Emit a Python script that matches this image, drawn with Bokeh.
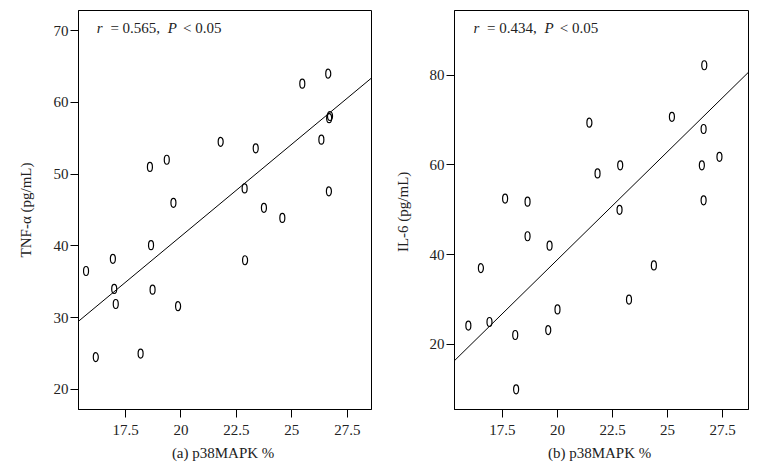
from bokeh.plotting import figure
from bokeh.layouts import row
from bokeh.models import ColumnDataSource, Slope, Label, FixedTicker, Range1d
from bokeh.embed import file_html
from bokeh.resources import INLINE

# ---- data ----
tnf_x = [26.64, 25.47, 26.68, 26.72, 26.33, 21.79, 23.37, 19.36, 18.60, 22.87, 26.67, 19.66,
         23.74, 24.57, 18.65, 16.93, 22.89, 15.72, 16.99, 18.72, 17.06, 19.87, 16.16, 18.18]
tnf_y = [64.0, 62.6, 57.8, 58.1, 54.8, 54.5, 53.6, 52.0, 51.0, 48.0, 47.6, 46.0,
         45.3, 43.9, 40.1, 38.2, 38.0, 36.5, 34.0, 33.9, 31.9, 31.6, 24.5, 25.0]

il6_x = [26.67, 25.20, 21.45, 26.64, 27.36, 22.85, 26.56, 21.82, 17.62, 18.64, 26.64, 22.82,
         18.64, 19.64, 16.52, 24.38, 23.25, 20.00, 15.95, 16.91, 18.08, 19.58, 18.12]
il6_y = [82.2, 70.7, 69.4, 68.0, 61.8, 59.9, 59.9, 58.1, 52.5, 51.8, 52.1, 50.0,
         44.1, 42.0, 37.0, 37.6, 30.0, 27.8, 24.2, 25.0, 22.1, 23.2, 10.0]

# fitted regression lines
tnf_slope, tnf_intercept = 2.566, -9.97
il6_slope, il6_intercept = 4.81, -57.3

x_ticks = [17.5, 20, 22.5, 25, 27.5]
x_tick_labels = {17.5: "17.5", 20: "20", 22.5: "22.5", 25: "25", 27.5: "27.5"}
tnf_ticks = [20, 30, 40, 50, 60, 70]
il6_ticks = [20, 40, 60, 80]

tnf_stats = ("r", "= 0.565,", "P", "< 0.05")
il6_stats = ("r", "= 0.434,", "P", "< 0.05")

SERIF = "Liberation Serif"


def make_panel(xs, ys, slope, intercept, xr, yr, yticks, ylabel, xlabel, stats,
               width, bl, br, stat_dx, ylab_standoff):
    p = figure(width=width, height=468, output_backend="svg", toolbar_location=None,
               x_range=Range1d(*xr), y_range=Range1d(*yr),
               min_border_left=bl, min_border_right=br, min_border_top=10, min_border_bottom=59)
    p.xgrid.visible = False
    p.ygrid.visible = False
    p.outline_line_color = "black"
    p.outline_line_width = 1
    p.outline_line_alpha = 1
    p.background_fill_color = "white"
    p.border_fill_color = "white"

    src = ColumnDataSource(dict(x=xs, y=ys))
    p.ellipse(x="x", y="y", width=5, height=9, width_units="screen", height_units="screen",
              source=src, fill_alpha=0, line_color="black", line_width=1.2)
    p.add_layout(Slope(gradient=slope, y_intercept=intercept, line_color="black", line_width=1))

    for ax in (p.xaxis[0], p.yaxis[0]):
        ax.axis_line_color = "black"
        ax.major_tick_line_color = "black"
        ax.minor_tick_line_color = None
        ax.major_tick_in = 0
        ax.major_tick_out = 8
        ax.major_label_text_font = SERIF
        ax.major_label_text_font_size = "15px"
        ax.major_label_text_color = "#222222"
        ax.axis_label_text_font = SERIF
        ax.axis_label_text_font_size = "15px"
        ax.axis_label_text_font_style = "normal"
        ax.axis_label_text_color = "#222222"

    p.xaxis.ticker = FixedTicker(ticks=x_ticks)
    p.xaxis.major_label_overrides = x_tick_labels
    p.xaxis.major_label_standoff = 7
    p.xaxis.axis_label = xlabel
    p.xaxis.axis_label_standoff = 7

    p.yaxis.ticker = FixedTicker(ticks=yticks)
    p.yaxis.major_label_standoff = 2
    p.yaxis.axis_label = ylabel
    p.yaxis.axis_label_standoff = ylab_standoff

    offsets = [18.3, 31.9, 89.3, 104.5]
    styles = ["italic", "normal", "italic", "normal"]
    for txt, dx, st in zip(stats, offsets, styles):
        p.add_layout(Label(x=dx + stat_dx, y=382, x_units="screen", y_units="screen", text=txt,
                           text_font=SERIF, text_font_size="15px", text_font_style=st,
                           text_color="#222222", text_baseline="alphabetic", text_align="left"))
    return p


p1 = make_panel(tnf_x, tnf_y, tnf_slope, tnf_intercept, (15.38, 28.59), (17.2, 72.8), tnf_ticks,
                "TNF-α (pg/mL)", "(a)  p38MAPK %", tnf_stats, 390, 78, 19, 0, 17)
p2 = make_panel(il6_x, il6_y, il6_slope, il6_intercept, (15.32, 28.68), (5.5, 94.4), il6_ticks,
                "IL-6  (pg/mL)", "(b)  p38MAPK %", il6_stats, 382, 64, 24, 0.7, 16)

layout = row(p1, p2)
open("out.html", "w").write(file_html(layout, INLINE))
